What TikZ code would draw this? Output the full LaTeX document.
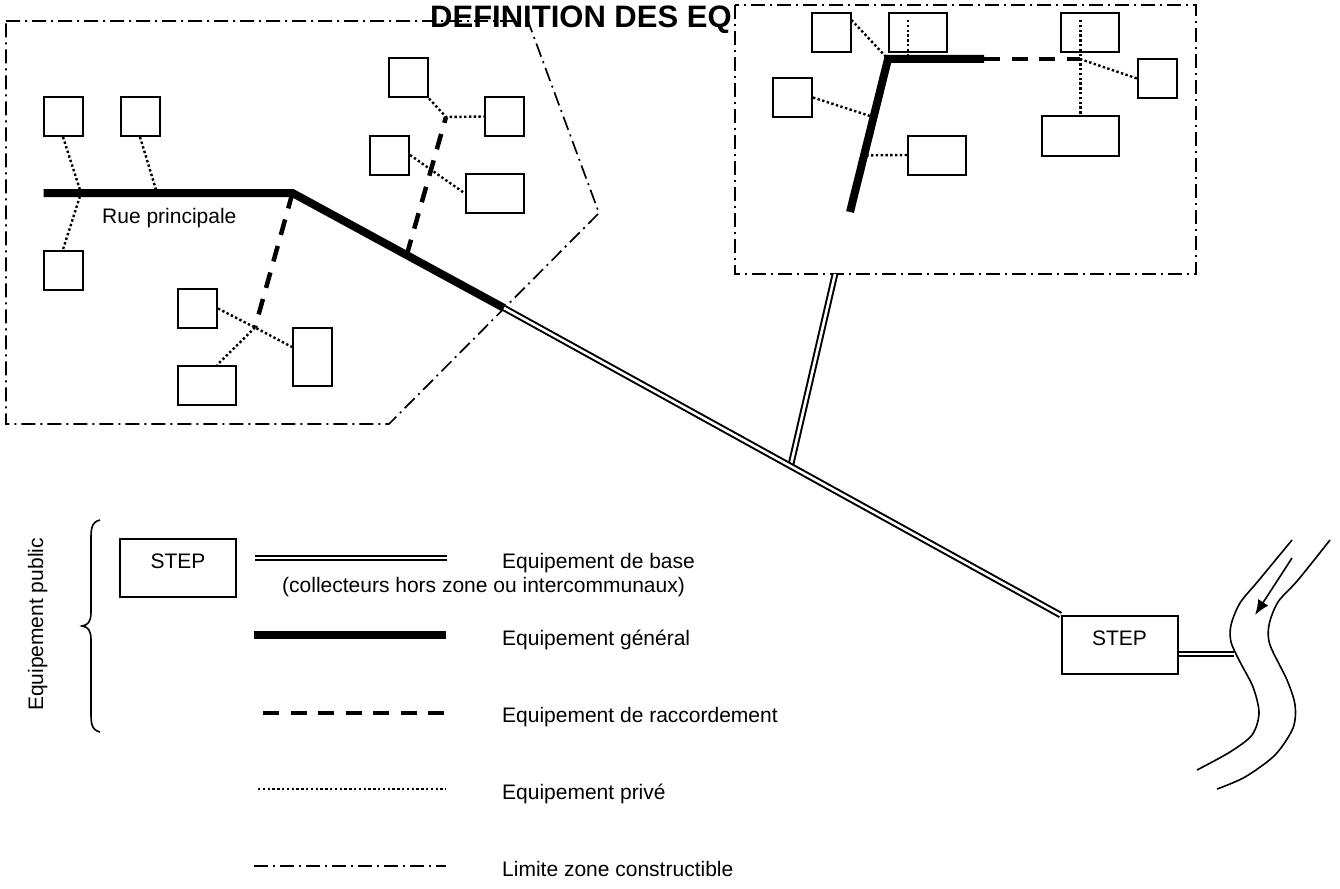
\documentclass[tikz,border=0pt]{standalone}
\usepackage{fontspec}
\setmainfont{Liberation Sans}
\usetikzlibrary{calc,arrows.meta}

\begin{document}
\begin{tikzpicture}[x=1pt,y=-1pt,
    texte/.style={font=\fontsize{21}{24}\selectfont,inner sep=0pt},
    lot/.style={draw,line width=2pt,minimum width=39pt,minimum height=39pt,inner sep=0pt},
    lotlarge/.style={lot,minimum width=58pt},
    stepbox/.style={draw,line width=2pt,minimum width=116pt,minimum height=58pt,inner sep=0pt,
        label={[texte,yshift=7pt]center:STEP}},
    zone/.style={line width=1.7pt,dash pattern=on 14pt off 5pt on 2pt off 5pt},
    general/.style={line width=8pt},
    raccord/.style={line width=4.5pt,dash pattern=on 16pt off 11.5pt},
    prive/.style={line width=2.4pt,dash pattern=on 2.4pt off 2.4pt},
    base/.style={double,line width=2pt,double distance=2.6pt}]
    \useasboundingbox (0,0) rectangle (1340,888);

    \draw[zone] (6,21) -- (528,21) -- (599,213) -- (389,424) -- (6,424) -- cycle;
    \node[font=\fontsize{31}{36}\selectfont\bfseries,inner sep=0pt,anchor=base west] (titre) at (430,28) {DEFINITION DES EQ};
    \draw[zone,fill=white] (735,5) rectangle (1196,274);

    \node[lot] (a) at (63,116.5) {};
    \node[lot] (b) at (140,116.5) {};
    \node[lot] (c) at (63,270) {};
    \node[lot] (d) at (408.5,78) {};
    \node[lot] (e) at (504.5,116.5) {};
    \node[lot] (f) at (389.5,155) {};
    \node[lotlarge] (g) at (495,193.5) {};
    \node[lot] (h) at (197.5,308.5) {};
    \node[lot,minimum height=58pt] (i) at (312.5,357) {};
    \node[lotlarge] (jj) at (207,385.5) {};
    \node[texte,anchor=base west] (rue) at (102,223) {Rue principale};

    \coordinate (r0) at (43.5,193);
    \coordinate (r1) at (292.5,193);
    \coordinate (r2) at (504,308);
    \coordinate (j1) at (81,193);
    \coordinate (j2) at (157,193);
    \coordinate (j3) at (446,117);
    \coordinate (j4) at ($(r1)!0.54!(r2)$);
    \coordinate (j5) at (255,327.5);
    \draw[prive] (a.south) -- (j1) -- (c.north);
    \draw[prive] (b.south) -- (j2);
    \draw[prive] (d.south east) -- (j3) -- (e.west);
    \draw[prive] (f.east) -- (g.west);
    \draw[prive] (h.east) -- (j5) -- ($(i.west)+(0,-10)$);
    \draw[prive] (j5) -- ($(jj.north)+(10,0)$);
    \draw[raccord] (j4) -- (j3);
    \draw[raccord] (r1) -- (j5);
    \draw[general] (r0) -- (r1) -- (r2);

    \node[lot] (s1) at (831,32.5) {};
    \node[lotlarge] (s2) at (917.5,32.5) {};
    \node[lotlarge] (s3) at (1090,32.5) {};
    \node[lot] (s4) at (792.5,97.5) {};
    \node[lotlarge] (s5) at (937,155) {};
    \node[lot] (s6) at (1157.5,78.5) {};
    \node[lot,minimum width=77pt] (s7) at (1080.5,136) {};
    \coordinate (k0) at (850,212);
    \coordinate (k1) at (888,59);
    \coordinate (k2) at (984,59);
    \coordinate (k3) at (1080,59);
    \coordinate (k4) at (908,59);
    \draw[prive] ($(s1.north east)+(0,8)$) -- (k1);
    \draw[prive] ($(k4 |- s2.north)+(0,8)$) -- (k4);
    \draw[prive] ($(s7.north |- s3.north)+(0,8)$) -- (s7.north);
    \draw[prive] (k3) -- (s6.west);
    \draw[prive] (s4.east) -- ($(k0)!0.62!(k1)$);
    \draw[prive] (s5.west) -- ($(k0)!0.37!(k1)$);
    \draw[raccord] (k2) -- (k3);
    \draw[general] (k0) -- (k1) -- (k2);

    \node[stepbox] (stepA) at (1119.5,645) {};
    \coordinate (zb) at (835,274);
    \coordinate (m) at ($(r2)!0.515!(stepA.north west)$);
    \draw[base] (zb) -- (m);
    \draw[base] (r2) -- (stepA.north west);
    \coordinate (riv) at (1234,654);
    \draw[base] ($(stepA.east)+(0,9)$) -- (riv);

    \draw[line width=1.6pt] plot[smooth] coordinates {(1292,540) (1259,580) (1240,603) (1231,625) (1231,642) (1240,662) (1253,687) (1259,713) (1252,735) (1230,752) (1197,770)};
    \draw[line width=1.6pt] plot[smooth] coordinates {(1330,540) (1298,580) (1278,602) (1269,625) (1270,645) (1287,680) (1295,705) (1293,728) (1275,755) (1245,777) (1217,789)};
    \draw[line width=1.6pt,-{Latex[length=15pt,width=12pt]}] (1292,558) -- (1255,615);

    \draw[line width=1.6pt] (100,520) .. controls (91,522) and (91,530) .. (91,540) -- (91,612)
        .. controls (91,622) and (88,625) .. (82,626) .. controls (88,627) and (91,630) .. (91,640)
        -- (91,712) .. controls (91,722) and (91,730) .. (100,732);
    \node[texte,rotate=90,anchor=base] (public) at (43,624.5) {Equipement public};
    \node[stepbox] (stepL) at (178,568) {};

    \draw[base] (255,558) -- (447,558);
    \node[texte,anchor=base west] (lbase) at (502,568) {Equipement de base};
    \node[texte,anchor=base west] (lbase2) at (282,592) {(collecteurs hors zone ou intercommunaux)};
    \draw[general] (254,635) -- (446,635);
    \node[texte,anchor=base west] (lgen) at (502,645) {Equipement général};
    \draw[raccord] (263,713) -- (446,713);
    \node[texte,anchor=base west] (lrac) at (502,722) {Equipement de raccordement};
    \draw[prive] (258,789) -- (446,789);
    \node[texte,anchor=base west] (lpri) at (502,799) {Equipement privé};
    \draw[zone] (254,866) -- (446,866);
    \node[texte,anchor=base west] (lzone) at (502,876) {Limite zone constructible};
\end{tikzpicture}
\end{document}
